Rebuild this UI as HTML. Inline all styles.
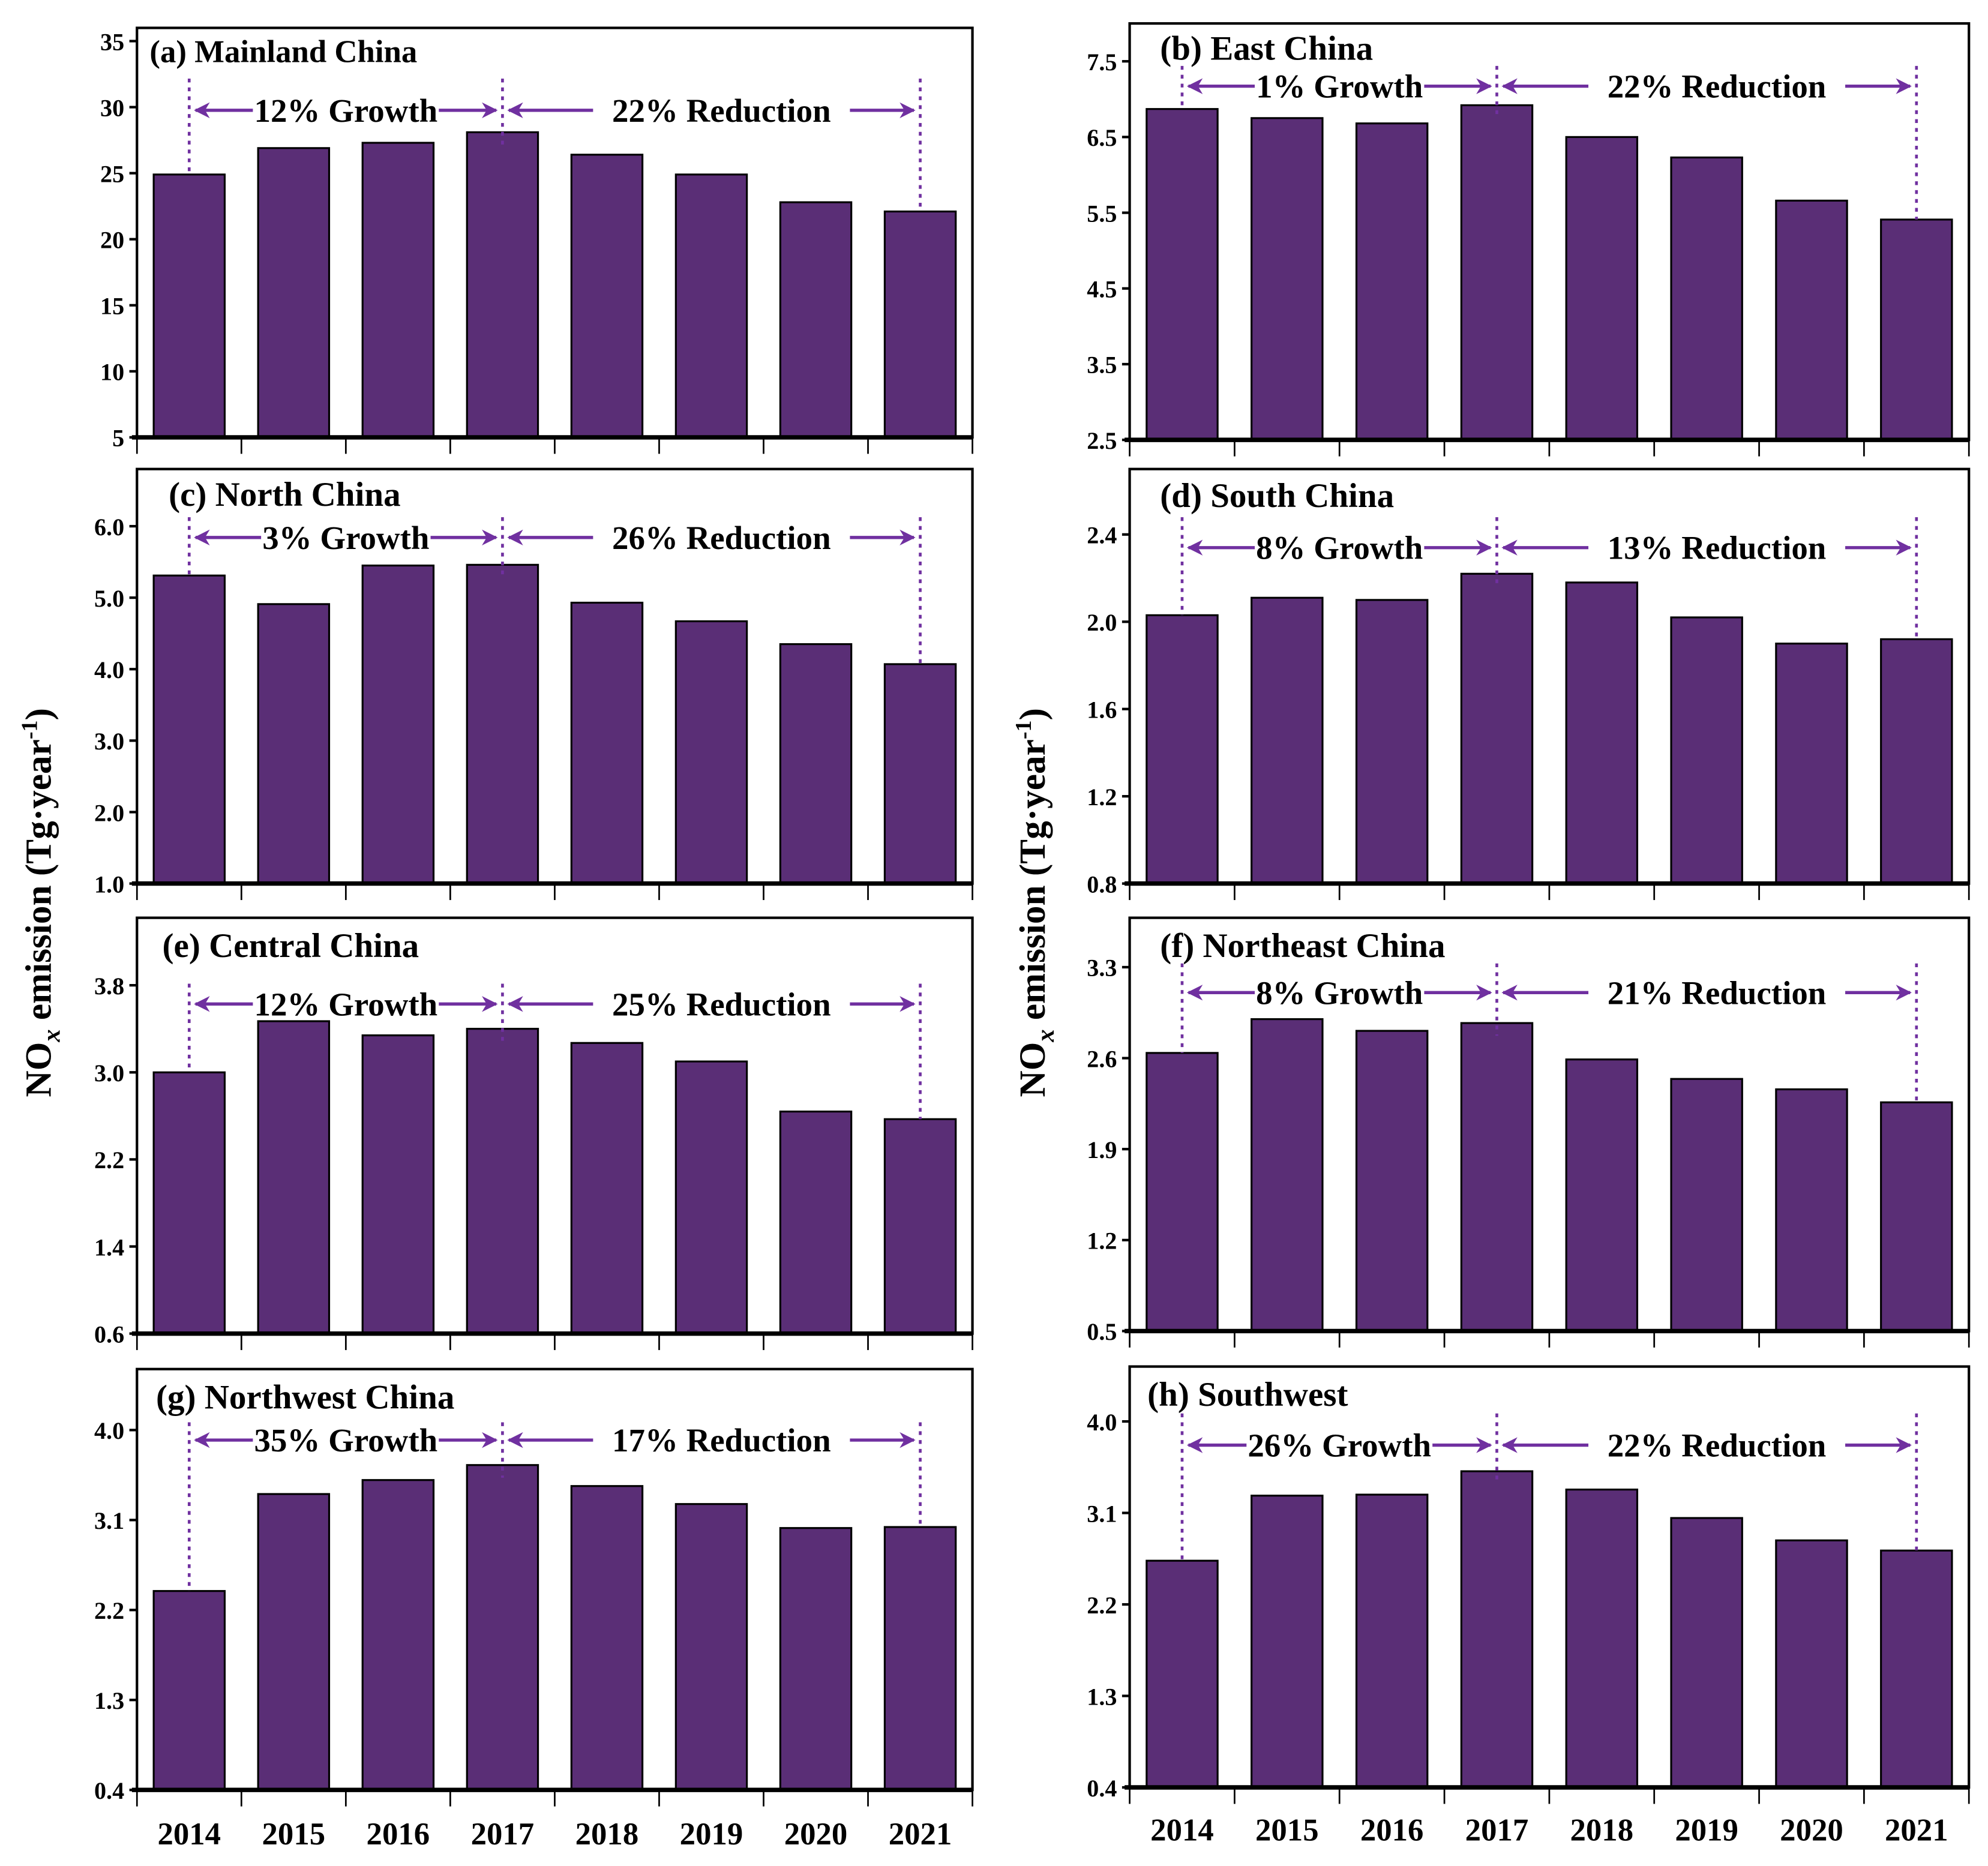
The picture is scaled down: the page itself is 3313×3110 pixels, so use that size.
<!DOCTYPE html>
<html><head><meta charset="utf-8"><style>
html,body{margin:0;padding:0;background:#fff}
svg{display:block}
text{font-family:"Liberation Serif",serif;font-weight:bold}
</style></head><body>
<svg id="chart" width="3313" height="3110" viewBox="0 0 1568 1472" xmlns="http://www.w3.org/2000/svg">
<defs>
<marker id="ah" viewBox="0 0 10 10" refX="9" refY="5" markerWidth="5" markerHeight="5" orient="auto-start-reverse"><path d="M0,0 L10,5 L0,10 L3,5 z" fill="#7030a0"/></marker>
</defs>
<text transform="translate(40,712) rotate(-90)" text-anchor="middle" font-size="29">NO<tspan font-style="italic" font-size="20" dy="7">x</tspan><tspan dy="-7"> emission (Tg·year</tspan><tspan font-size="18" dy="-11">-1</tspan><tspan dy="11">)</tspan></text>
<text transform="translate(824,712) rotate(-90)" text-anchor="middle" font-size="29">NO<tspan font-style="italic" font-size="20" dy="7">x</tspan><tspan dy="-7"> emission (Tg·year</tspan><tspan font-size="18" dy="-11">-1</tspan><tspan dy="11">)</tspan></text>
</svg>
<script>
const years = ['2014','2015','2016','2017','2018','2019','2020','2021'];
const valsA = [24.9, 26.9, 27.3, 28.1, 26.4, 24.9, 22.8, 22.1];
const valsB = [6.87, 6.75, 6.68, 6.92, 6.50, 6.23, 5.66, 5.41];
const valsC = [5.31, 4.91, 5.45, 5.46, 4.93, 4.67, 4.35, 4.07];
const valsD = [2.03, 2.11, 2.10, 2.22, 2.18, 2.02, 1.90, 1.92];
const valsE = [3.00, 3.47, 3.34, 3.40, 3.27, 3.10, 2.64, 2.57];
const valsF = [2.64, 2.90, 2.81, 2.87, 2.59, 2.44, 2.36, 2.26];
const valsG = [2.39, 3.36, 3.50, 3.65, 3.44, 3.26, 3.02, 3.03];
const valsH = [2.63, 3.27, 3.28, 3.51, 3.33, 3.05, 2.83, 2.73];
const titles = ['(a) Mainland China','(b) East China','(c) North China','(d) South China','(e) Central China','(f) Northeast China','(g) Northwest China','(h) Southwest'];
const growthLabels = ['12% Growth','1% Growth','3% Growth','8% Growth','12% Growth','8% Growth','35% Growth','26% Growth'];
const reductionLabels = ['22% Reduction','22% Reduction','26% Reduction','13% Reduction','25% Reduction','21% Reduction','17% Reduction','22% Reduction'];
const ticksA = [5,10,15,20,25,30,35];
const ticksB = [2.5,3.5,4.5,5.5,6.5,7.5];
const ticksC = [1,2,3,4,5,6];
const ticksD = [0.8,1.2,1.6,2.0,2.4];
const ticksE = [0.6,1.4,2.2,3.0,3.8];
const ticksF = [0.5,1.2,1.9,2.6,3.3];
const ticksG = [0.4,1.3,2.2,3.1,4.0];
const ticksH = [0.4,1.3,2.2,3.1,4.0];

const NS='http://www.w3.org/2000/svg';
const svg=document.getElementById('chart');
function mk(tag,attrs,parent){const e=document.createElementNS(NS,tag);for(const k in attrs)e.setAttribute(k,attrs[k]);(parent||svg).appendChild(e);return e;}

const panels=[
 {v:valsA,t:ticksA,dec:0,x0:108,x1:767,y0:22,y1:345,min:5,max:36,tx:118,ty:49,ts:25,ay:87,dt:62},
 {v:valsB,t:ticksB,dec:1,x0:891,x1:1553,y0:18.5,y1:347,min:2.5,max:8,tx:915,ty:47,ts:27,ay:68,dt:52},
 {v:valsC,t:ticksC,dec:1,x0:108,x1:767,y0:370,y1:697,min:1,max:6.8,tx:133,ty:399,ts:27,ay:424,dt:408},
 {v:valsD,t:ticksD,dec:1,x0:891,x1:1553,y0:370,y1:697,min:0.8,max:2.7,tx:915,ty:400,ts:27,ay:432,dt:408},
 {v:valsE,t:ticksE,dec:1,x0:108,x1:767,y0:724,y1:1052,min:0.6,max:4.42,tx:128,ty:755,ts:27,ay:792,dt:776},
 {v:valsF,t:ticksF,dec:1,x0:891,x1:1553,y0:724,y1:1050,min:0.5,max:3.68,tx:915,ty:755,ts:27,ay:783,dt:760},
 {v:valsG,t:ticksG,dec:1,x0:108,x1:767,y0:1080,y1:1412,min:0.4,max:4.61,tx:123,ty:1111,ts:27,ay:1136,dt:1122,xl:1455},
 {v:valsH,t:ticksH,dec:1,x0:891,x1:1553,y0:1078,y1:1410,min:0.4,max:4.54,tx:905,ty:1109,ts:27,ay:1140,dt:1115,xl:1452}
];
const letters='abcdefgh';
panels.forEach((p,pi)=>{
 const g=mk('g',{});
 
 
 const bw=(p.x1-p.x0)/years.length;
 const xc=i=>p.x0+bw*(i+0.5);
 const ys=v=>p.y1-(v-p.min)/(p.max-p.min)*(p.y1-p.y0);
 p.v.forEach((v,i)=>{
  const r=mk('rect',{x:xc(i)-28,y:ys(v),width:56,height:p.y1-ys(v),fill:'#5a2e76',stroke:'#000','stroke-width':1.5},g);
  
  
 });
 const fr=mk('rect',{x:p.x0,y:p.y0,width:p.x1-p.x0,height:p.y1-p.y0,fill:'none',stroke:'#000','stroke-width':2},g);
 
 
 mk('line',{x1:p.x0-4,x2:p.x1,y1:p.y1,y2:p.y1,stroke:'#000','stroke-width':3.5},g);
 for(let i=0;i<=years.length;i++){mk('line',{x1:p.x0+bw*i,x2:p.x0+bw*i,y1:p.y1,y2:p.y1+13,stroke:'#000','stroke-width':1.3},g);}
 p.t.forEach(t=>{
  const y=ys(t);
  mk('line',{x1:p.x0-6,x2:p.x0,y1:y,y2:y,stroke:'#000','stroke-width':2},g);
  const tl=mk('text',{x:p.x0-10,y:y+7,'text-anchor':'end','font-size':19},g);
  tl.textContent=t.toFixed(p.dec);
  
  
 });
 if(p.xl){years.forEach((yr,i)=>{
  const xl=mk('text',{x:xc(i),y:p.xl,'text-anchor':'middle','font-size':25},g);
  xl.textContent=yr;
  
  
 });}
 const tt=mk('text',{x:p.tx,y:p.ty,'font-size':p.ts},g);
 tt.textContent=titles[pi];
 
 
 [[0,ys(p.v[0])],[3,ys(p.v[3])+10],[7,ys(p.v[7])]].forEach(([i,yb])=>{
  mk('line',{x1:xc(i),x2:xc(i),y1:p.dt,y2:yb,stroke:'#7030a0','stroke-width':2.2,'stroke-dasharray':'3,4'},g);
 });
 const c0=xc(0),c3=xc(3),c7=xc(7);
 const a1=mk('line',{x1:c0+5,x2:c3-5,y1:p.ay,y2:p.ay,stroke:'#7030a0','stroke-width':2.5,'marker-start':'url(#ah)','marker-end':'url(#ah)'},g);
 
 
 const a2=mk('line',{x1:c3+5,x2:c7-5,y1:p.ay,y2:p.ay,stroke:'#7030a0','stroke-width':2.5,'marker-start':'url(#ah)','marker-end':'url(#ah)'},g);
 
 
 const gm=(c0+c3)/2, rm=(c3+c7)/2+8;
 const gbg=mk('rect',{fill:'#fff'},g), rbg=mk('rect',{fill:'#fff'},g);
 const gt=mk('text',{x:gm,y:p.ay+9,'text-anchor':'middle','font-size':26},g);
 gt.textContent=growthLabels[pi];
 
 
 const rt=mk('text',{x:rm,y:p.ay+9,'text-anchor':'middle','font-size':26},g);
 rt.textContent=reductionLabels[pi];
 
 
 const gb=gt.getBBox(), rb=rt.getBBox();
 gbg.setAttribute('x',gb.x-1);gbg.setAttribute('width',gb.width+2);gbg.setAttribute('y',p.ay-8);gbg.setAttribute('height',16);
 rbg.setAttribute('x',rb.x-15);rbg.setAttribute('width',rb.width+30);rbg.setAttribute('y',p.ay-8);rbg.setAttribute('height',16);
});
</script>
</body></html>
